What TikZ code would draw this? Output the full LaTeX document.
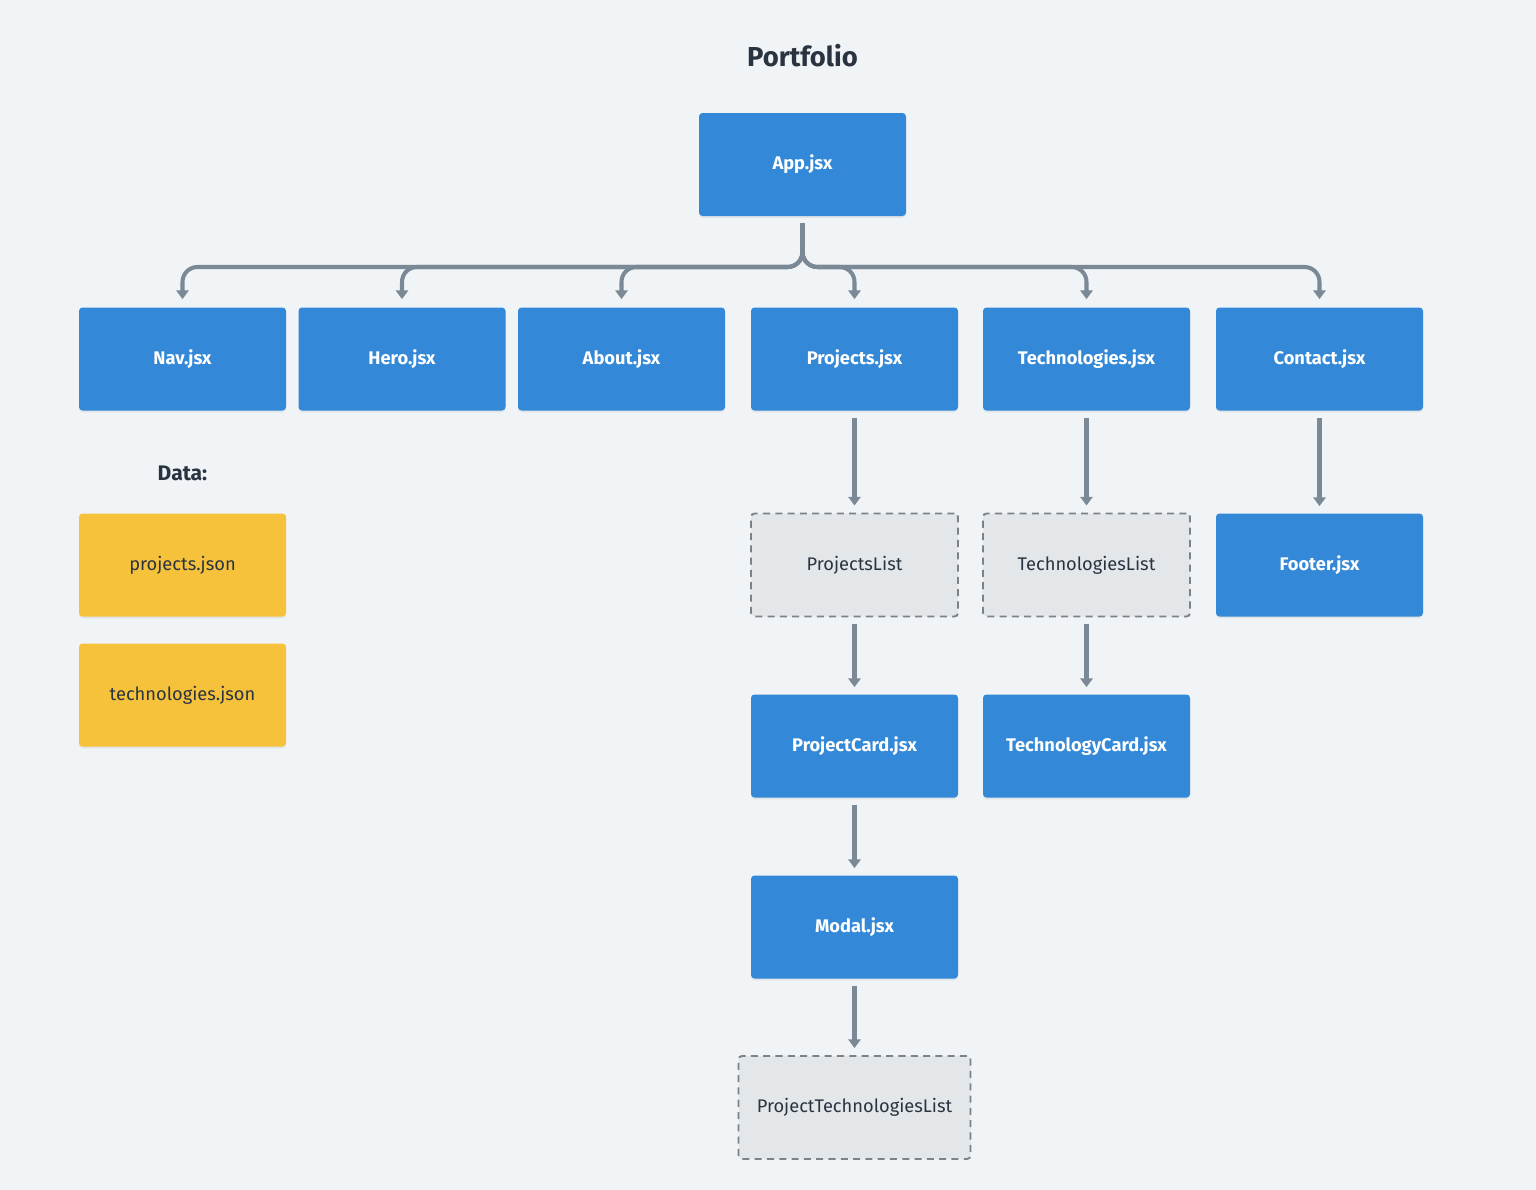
\documentclass[tikz,border=0pt]{standalone}
\usepackage{fontspec}
\setmainfont{Fira Sans}
\usetikzlibrary{arrows.meta,shadows}
\definecolor{bg}{HTML}{F0F4F7}
\definecolor{blu}{HTML}{3389D7}
\definecolor{yel}{HTML}{F6C23C}
\definecolor{gry}{HTML}{E3E7EA}
\definecolor{txt}{HTML}{2A3441}
\definecolor{lnk}{HTML}{7B8895}
\definecolor{dsh}{HTML}{7D8287}
\begin{document}
\begin{tikzpicture}[x=0.02cm,y=-0.02cm,
  box/.style={minimum width=207*0.02cm,minimum height=103*0.02cm,rounded corners=2pt,inner sep=0pt,
     drop shadow={shadow xshift=0pt,shadow yshift=-1pt,opacity=0.12}},
  comp/.style={box,fill=blu,text=white,font=\fontsize{10.4}{12}\selectfont\bfseries},
  data/.style={box,fill=yel,text=txt,font=\fontsize{10.4}{12}\selectfont},
  virt/.style={minimum width=207*0.02cm,minimum height=103*0.02cm,rounded corners=2pt,inner sep=0pt,
     fill=gry,draw=dsh,line width=1.1pt,dash pattern=on 4pt off 3pt,text=txt,font=\fontsize{10.4}{12}\selectfont},
  link/.style={draw=lnk,line width=2.3pt,-{Triangle[width=7pt,length=5pt]}},
  tree/.style={link,rounded corners=8.5pt}]
\fill[bg] (0,0) rectangle (1536,1190);
\useasboundingbox (0,0) rectangle (1536,1190);
\node[text=txt,font=\fontsize{15.6}{18}\selectfont\bfseries] (title) at (802.5,56) {Portfolio};
\node[comp] (app) at (802.5,164.5) {App.jsx};
\node[comp] (nav) at (182.5,359) {Nav.jsx};
\node[comp] (hero) at (402,359) {Hero.jsx};
\node[comp] (about) at (621.5,359) {About.jsx};
\node[comp] (proj) at (854.5,359) {Projects.jsx};
\node[comp] (tech) at (1086.5,359) {Technologies.jsx};
\node[comp] (cont) at (1319.5,359) {Contact.jsx};
\node[text=txt,font=\fontsize{12}{14}\selectfont\bfseries] (datalbl) at (182.5,473) {Data:};
\node[data] (pjson) at (182.5,565) {projects.json};
\node[data] (tjson) at (182.5,695) {technologies.json};
\node[virt] (plist) at (854.5,565) {ProjectsList};
\node[virt] (tlist) at (1086.5,565) {TechnologiesList};
\node[comp] (foot) at (1319.5,565) {Footer.jsx};
\node[comp] (pcard) at (854.5,746) {ProjectCard.jsx};
\node[comp] (tcard) at (1086.5,746) {TechnologyCard.jsx};
\node[comp] (modal) at (854.5,927) {Modal.jsx};
\node[virt,minimum width=232*0.02cm] (ptl) at (854.5,1107.5) {ProjectTechnologiesList};
\coordinate (hub) at (802.5,267);
\foreach \n in {nav,hero,about,proj,tech,cont}{
  \draw[tree] ([yshift=-7*0.02cm]app.south) -- (hub) -| ([yshift=8*0.02cm]\n.north);
}
\draw[link] ([yshift=-7*0.02cm]proj.south) -- ([yshift=7*0.02cm]plist.north);
\draw[link] ([yshift=-7*0.02cm]tech.south) -- ([yshift=7*0.02cm]tlist.north);
\draw[link] ([yshift=-7*0.02cm]cont.south) -- ([yshift=7*0.02cm]foot.north);
\draw[link] ([yshift=-7*0.02cm]plist.south) -- ([yshift=7*0.02cm]pcard.north);
\draw[link] ([yshift=-7*0.02cm]tlist.south) -- ([yshift=7*0.02cm]tcard.north);
\draw[link] ([yshift=-7*0.02cm]pcard.south) -- ([yshift=7*0.02cm]modal.north);
\draw[link] ([yshift=-7*0.02cm]modal.south) -- ([yshift=7*0.02cm]ptl.north);
\end{tikzpicture}
\end{document}
